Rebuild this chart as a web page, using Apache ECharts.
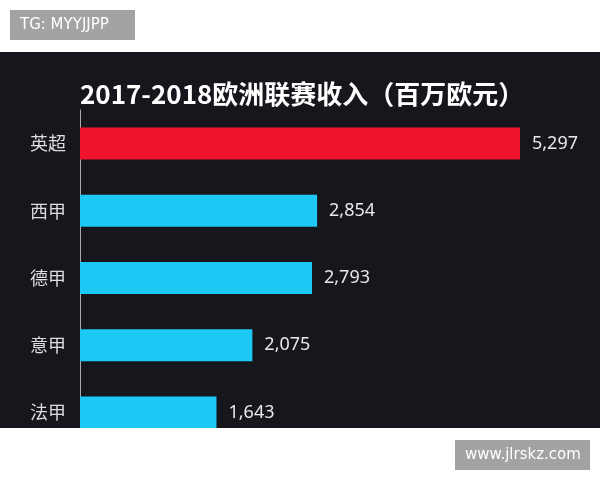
<!DOCTYPE html><html><head><meta charset="utf-8"><script src="https://cdn.jsdelivr.net/npm/echarts@6/dist/echarts.min.js"></script>
<style>body{margin:0}#c{width:600px;height:480px}</style></head><body><div id="c"></div><script>
const categories=['英超','西甲','德甲','意甲','法甲'];
const values=[5297,2854,2793,2075,1643];
const colors=['#f0132e','#1ec8f5','#1ec8f5','#1ec8f5','#1ec8f5'];
const chart=echarts.init(document.getElementById('c'));
chart.setOption({
backgroundColor:'#fff',
graphic:[
{type:'rect',shape:{x:0,y:52,width:600,height:376},style:{fill:'#15171c'},z:-10},
{type:'rect',shape:{x:0,y:428,width:600,height:52},style:{fill:'#fff'},z:100},
{type:'rect',shape:{x:10,y:10,width:125,height:30},style:{fill:'#a3a3a3'},z:101},
{type:'text',x:20,y:25,style:{text:'TG: MYYJJPP',fill:'#fff',font:'15px "DejaVu Sans"',verticalAlign:'middle'},z:102},
{type:'rect',shape:{x:455,y:440,width:135,height:30},style:{fill:'#a3a3a3'},z:101},
{type:'text',x:465,y:455,style:{text:'www.jlrskz.com',fill:'#fff',font:'15px "DejaVu Sans"',verticalAlign:'middle'},z:102},
{type:'text',x:80,y:94,style:{text:'2017-2018欧洲联赛收入（百万欧元）',fill:'#fff',font:'bold 26px "Noto Sans CJK SC"',verticalAlign:'middle'},z:102}
],
grid:{left:80,top:110,width:440,height:336},
xAxis:{type:'value',min:0,max:5297,show:false},
yAxis:{type:'category',data:categories,inverse:true,axisLine:{lineStyle:{color:'#aaa',width:1}},axisTick:{show:false},
axisLabel:{color:'#ddd',fontSize:18,fontFamily:'Noto Sans CJK SC',margin:14}},
series:[{type:'bar',barWidth:32,data:values.map((v,i)=>({value:v,itemStyle:{color:colors[i]}})),
label:{show:true,position:'right',distance:12,color:'#e8e8e8',fontSize:18,fontFamily:'Noto Sans',formatter:p=>p.value.toLocaleString('en-US')}}]
});
</script></body></html>
